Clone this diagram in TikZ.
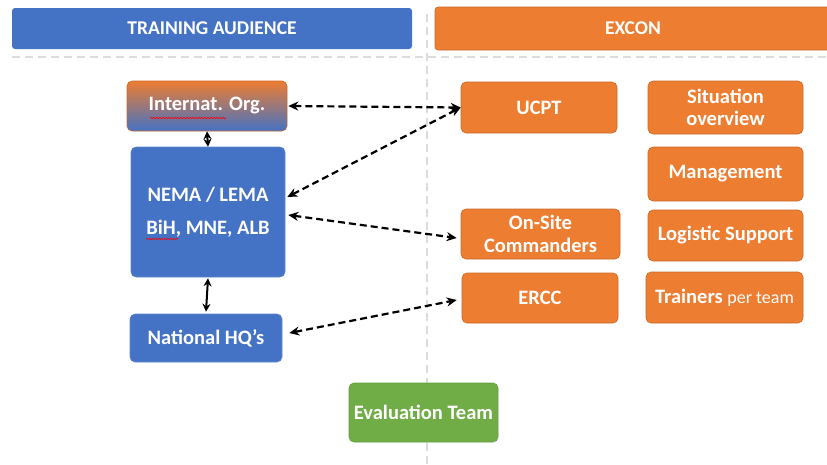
\documentclass[tikz,border=0pt]{standalone}
\usepackage{fontspec}
\setmainfont{Carlito}
\usetikzlibrary{arrows.meta,decorations.pathmorphing}
\definecolor{cblue}{HTML}{4472C4}
\definecolor{corange}{HTML}{ED7D31}
\definecolor{cdorange}{HTML}{C9682A}
\definecolor{cgreen}{HTML}{70AD47}
\definecolor{cgray}{HTML}{DCDCDC}
\tikzset{
  box/.style={rounded corners=5pt, text=white, align=center, inner sep=0pt,
    font=\bfseries\fontsize{20.5}{22.5}\selectfont},
  obox/.style={box, fill=corange, draw=cdorange, line width=0.6pt},
  bbox/.style={box, fill=cblue, draw=cblue!85!white, line width=0.6pt},
  gbox/.style={box, fill=cgreen, draw=cgreen!90!black, line width=0.6pt},
  hdr/.style={rounded corners=3pt, text=white, inner sep=0pt,
    font=\bfseries\fontsize{19.5}{22}\selectfont},
  sep/.style={draw=cgray, line width=2.2pt, dash pattern=on 8pt off 5pt},
  link/.style={{Stealth[length=10pt,width=9pt]}-{Stealth[length=10pt,width=9pt]}, line width=2.2pt, dash pattern=on 7pt off 4pt},
  solidlink/.style={{Stealth[length=8pt,width=8pt]}-{Stealth[length=8pt,width=8pt]}, line width=2pt},
  squig/.style={draw=red, line width=0.6pt, decorate, decoration={snake, amplitude=0.8pt, segment length=3pt}}
}
\begin{document}
\begin{tikzpicture}[x=1pt,y=-1pt]
\useasboundingbox (0,0) rectangle (827,464);
% separators
\draw[sep] (427,14) -- (427,464);
\draw[sep] (12,57) -- (827,57);
% headers
\node[hdr, fill=cblue, minimum width=400pt, minimum height=41pt] (hta) at (212,28.5) {TRAINING AUDIENCE};
\node[hdr, fill=corange, draw=cdorange, line width=0.6pt, minimum width=400pt, minimum height=43pt] (hex) at (635,28.5) {};
\node[text=white, font=\bfseries\fontsize{19.5}{22}\selectfont, inner sep=0pt] (hext) at (633,28.5) {EXCON};
% left column
\node[box, draw=cdorange, line width=0.6pt, top color=corange, bottom color=cblue, minimum width=160pt, minimum height=50pt] (io) at (207,106) {Internat. Org.};
\node[bbox, minimum width=154pt, minimum height=130pt] (nema) at (208,212) {NEMA / LEMA\\[10pt]BiH, MNE, ALB};
\node[bbox, minimum width=152pt, minimum height=48pt] (hq) at (206,338) {National HQ’s};
% middle column
\node[obox, minimum width=156pt, minimum height=51pt] (ucpt) at (539,107.5) {UCPT};
\node[obox, minimum width=159pt, minimum height=50pt] (os) at (540.5,234) {On-Site\\Commanders};
\node[obox, minimum width=156pt, minimum height=50pt] (ercc) at (540,298) {ERCC};
% right column
\node[obox, minimum width=155pt, minimum height=53pt] (sit) at (725.5,107.5) {Situation\\overview};
\node[obox, minimum width=155pt, minimum height=54pt] (man) at (725.5,174) {Management};
\node[obox, minimum width=155pt, minimum height=51pt] (log) at (725.5,235.5) {Logistic Support};
\node[obox, minimum width=157pt, minimum height=51pt] (tr) at (724.5,297.5) {Trainers {\mdseries\fontsize{18}{20}\selectfont per team}};
% evaluation
\node[gbox, minimum width=149pt, minimum height=59pt] (ev) at (423.5,412.5) {Evaluation Team};
% spell-check marks
\draw[squig] (150,118) -- (226,118);
\draw[squig] (146,239) -- (178,239);
% connectors
\draw[solidlink] (io.south) -- (nema.north);
\draw[solidlink] ([yshift=-1pt]nema.south) -- ([yshift=2pt]hq.north);
\draw[link] ([xshift=1pt]io.east) -- (ucpt.west);
\draw[link] ([xshift=2pt,yshift=15pt]nema.east) -- (ucpt.west);
\draw[link] ([xshift=3pt,yshift=-3pt]nema.east) -- ([xshift=-4pt,yshift=-4pt]os.west);
\draw[link] ([xshift=7pt,yshift=5pt]hq.east) -- ([xshift=-5pt,yshift=-2pt]ercc.west);
\end{tikzpicture}
\end{document}
